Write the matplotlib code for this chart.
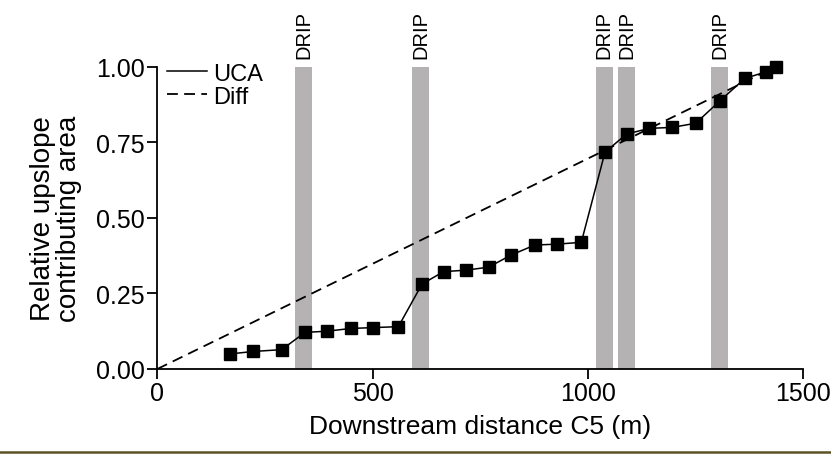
import matplotlib.pyplot as plt
from matplotlib.lines import Line2D

plt.rcParams['font.family'] = ['Liberation Sans', 'DejaVu Sans']

# UCA along the stream (distance in m, relative area)
distance = [170, 223, 289, 343, 394, 449, 502, 560, 615, 665, 718, 770,
            822, 877, 929, 985, 1040, 1090, 1143, 1196, 1251, 1307, 1365,
            1414, 1437]
uca = [0.050, 0.058, 0.064, 0.121, 0.125, 0.134, 0.137, 0.140, 0.281,
       0.322, 0.327, 0.337, 0.377, 0.410, 0.413, 0.419, 0.717, 0.777,
       0.796, 0.799, 0.813, 0.887, 0.961, 0.983, 1.000]

# straight line from origin to the outlet
diff_x = [0, 1437]
diff_y = [0, 1.0]

# DRIP zones (start, end) in m
drip_start = [319, 591, 1018, 1070, 1286]
drip_end = [360, 632, 1059, 1110, 1326]

dash = (0, (6, 3.5))

fig = plt.figure(figsize=(8.31, 4.56), dpi=100)
ax = fig.add_axes([0.1893, 0.1886, 0.777, 0.663])

for s, e in zip(drip_start, drip_end):
    ax.axvspan(s, e, ymin=0, ymax=1, color='#b4b2b2', lw=0, zorder=1)
    ax.text((s + e) / 2, 1.03, 'DRIP', rotation=90, ha='center', va='bottom',
            fontsize=14.5, clip_on=False)

ax.plot(diff_x, diff_y, color='black', lw=1.3, ls=dash, zorder=2)
ax.plot(distance, uca, color='black', lw=1.1, marker='s', markersize=8.7,
        zorder=3, clip_on=False)

ax.set_xlim(0, 1500)
ax.set_ylim(0, 1.0)
ax.set_xticks([0, 500, 1000, 1500])
ax.set_yticks([0, 0.25, 0.5, 0.75, 1.0])
ax.set_yticklabels(['0.00', '0.25', '0.50', '0.75', '1.00'])
ax.tick_params(axis='both', labelsize=18, width=1.3, length=7, direction='out', pad=2)

for side in ['top', 'right']:
    ax.spines[side].set_visible(False)
for side in ['left', 'bottom']:
    ax.spines[side].set_linewidth(1.3)

ax.set_xlabel('Downstream distance C5 (m)', fontsize=19, labelpad=6)
ax.set_ylabel('Relative upslope\ncontributing area', fontsize=20, labelpad=10,
              linespacing=1.0)

handles = [Line2D([], [], color='black', lw=1.1),
           Line2D([], [], color='black', lw=1.3, ls=dash)]
ax.legend(handles, ['UCA', 'Diff'], loc='upper left', bbox_to_anchor=(0.0, 1.045),
          frameon=False, fontsize=17, handlelength=1.7, handletextpad=0.25,
          labelspacing=0.05, borderaxespad=0.2, borderpad=0.2)

# dark rule along the bottom edge of the figure
fig.add_artist(Line2D([0, 1], [0.007, 0.007], color='#5c5226', lw=1.8,
                      transform=fig.transFigure))

fig.savefig('out.png', dpi=100)
